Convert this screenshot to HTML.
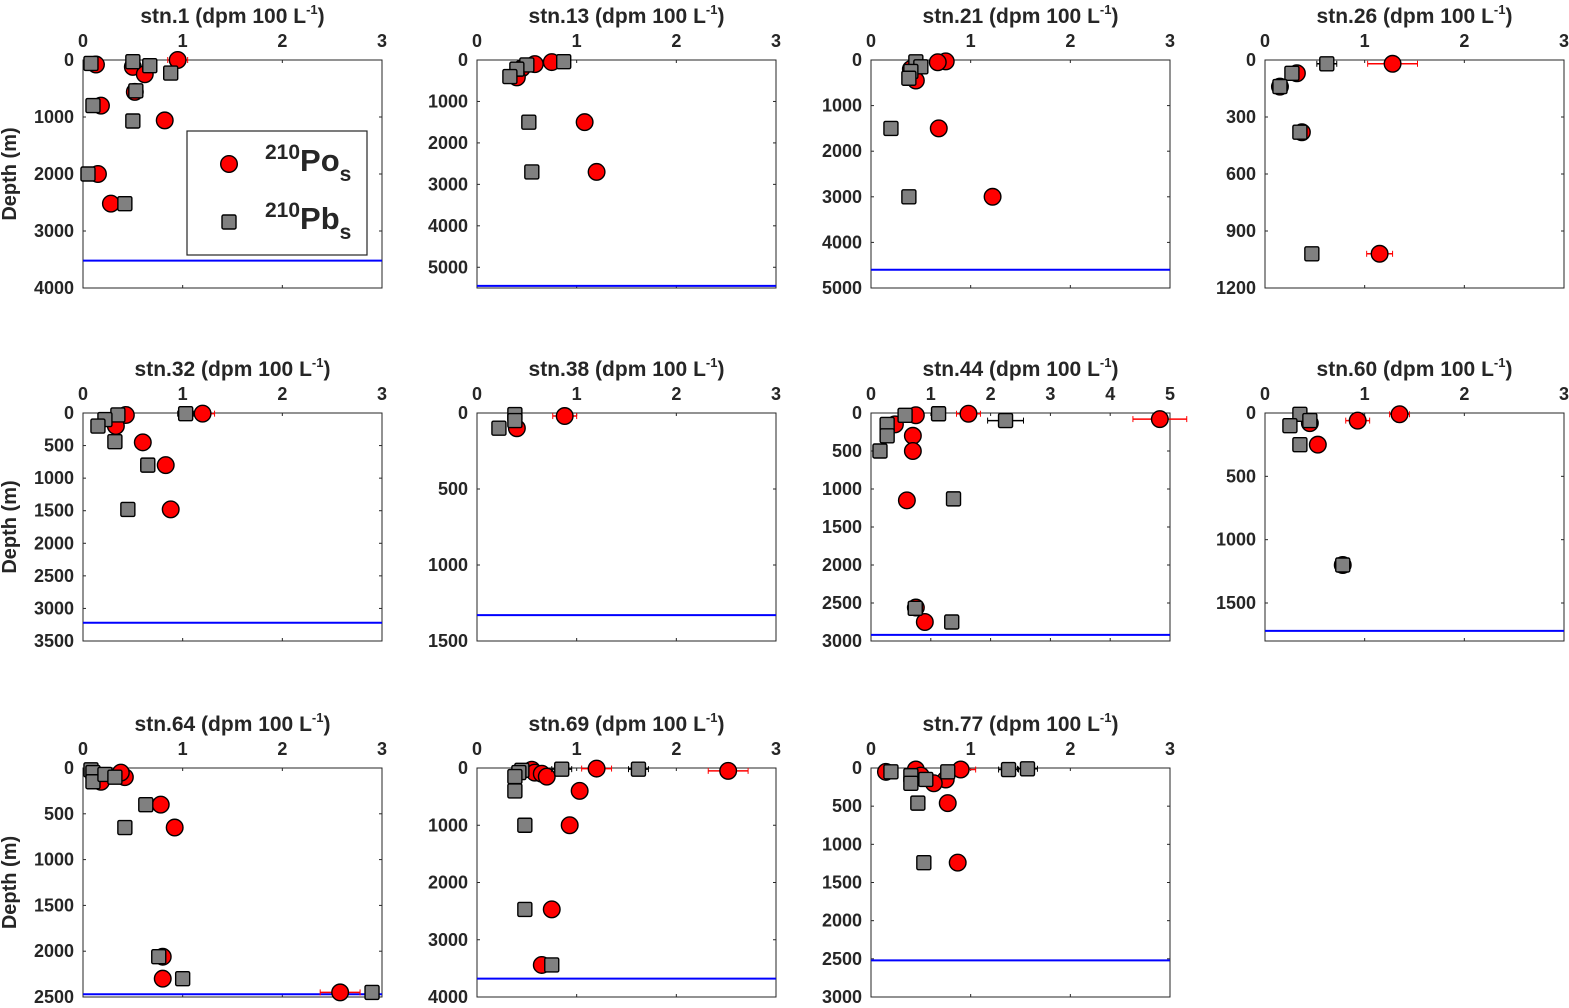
<!DOCTYPE html>
<html><head><meta charset="utf-8"><style>
html,body{margin:0;padding:0;background:#fff;}
svg text{font-family:"Liberation Sans",Arial,sans-serif;font-weight:bold;fill:#262626;}
</style></head><body>
<svg id="fig" xmlns="http://www.w3.org/2000/svg" width="1569" height="1003" viewBox="0 0 1569 1003"></svg>
<script>
// ---- data ----
const stations = ["1","13","21","26","32","38","44","60","64","69","77"];
const xMaxes = [3,3,3,3,3,3,5,3,3,3,3];
const yMaxes = [4000,5500,5000,1200,3500,1500,3000,1800,2500,4000,3000];
const yTickSteps = [1000,1000,1000,300,500,500,500,500,500,1000,500];
const bottomDepths = [3520,5450,4600,null,3220,1330,2920,1720,2470,3680,2520];
const poX = [
 [0.13,0.5,0.62,0.52,0.18,0.82,0.15,0.28,0.95],
 [0.75,0.58,0.45,0.4,1.08,1.2],
 [0.75,0.67,0.45,0.45,0.68,1.22,0.4],
 [1.28,0.32,0.15,0.37,1.15],
 [1.2,0.43,0.33,0.6,0.83,0.88],
 [0.88,0.4],
 [0.75,1.63,4.83,0.4,0.7,0.7,0.6,0.75,0.9],
 [1.35,0.93,0.45,0.53,0.78],
 [0.42,0.18,0.38,0.78,0.92,0.8,0.8,2.58],
 [1.2,0.55,0.58,0.65,0.7,1.03,0.93,0.75,0.65,2.52],
 [0.15,0.45,0.5,0.9,0.75,0.63,0.77,0.87]
];
const poD = [
 [80,120,250,560,800,1060,2000,2520,0],
 [50,100,200,420,1500,2700],
 [30,50,100,450,1500,3000,200],
 [20,70,140,380,1020],
 [10,30,200,450,800,1480],
 [20,100],
 [30,10,80,150,300,500,1150,2560,2750],
 [10,60,80,250,1200],
 [100,150,50,400,650,2060,2300,2450],
 [10,30,80,100,150,400,1000,2470,3440,50],
 [50,20,100,20,150,200,460,1240]
];
const poErr = [
 [0,0,0,0,0,0,0,0,0.1],
 [0,0,0,0,0,0],
 [0,0,0,0,0,0,0],
 [0.25,0,0,0,0.13],
 [0.12,0,0,0,0.07,0.08],
 [0.12,0],
 [0,0.2,0.45,0,0,0,0,0,0],
 [0.1,0.12,0,0,0],
 [0,0,0,0,0,0,0,0.2],
 [0.15,0,0,0,0,0.05,0.08,0.07,0,0.2],
 [0,0,0,0.15,0,0,0,0]
];
const pbX = [
 [0.08,0.5,0.67,0.88,0.53,0.1,0.5,0.05,0.42],
 [0.87,0.5,0.4,0.33,0.52,0.55],
 [0.45,0.5,0.4,0.38,0.2,0.38],
 [0.62,0.27,0.15,0.35,0.47],
 [1.03,0.35,0.22,0.15,0.32,0.65,0.45],
 [0.38,0.38,0.22],
 [0.57,1.13,2.25,0.27,0.27,0.15,1.38,0.74,1.35],
 [0.35,0.45,0.25,0.35,0.78],
 [0.08,0.1,0.1,0.22,0.32,0.63,0.42,0.76,1.0,2.9],
 [0.85,1.62,0.45,0.42,0.38,0.38,0.48,0.48,0.75],
 [0.2,0.4,0.4,0.55,0.77,1.38,1.57,0.47,0.53]
];
const pbD = [
 [60,30,100,230,540,800,1070,2000,2520],
 [40,120,220,400,1500,2700],
 [40,150,250,400,1500,3000],
 [20,70,140,380,1020],
 [10,30,100,200,440,800,1480],
 [10,50,100],
 [30,10,100,150,300,500,1130,2570,2750],
 [10,60,100,250,1200],
 [20,50,150,70,100,400,650,2060,2300,2450],
 [20,20,40,80,150,400,1000,2470,3440],
 [50,100,200,150,50,20,10,460,1240]
];
const pbErr = [
 [0,0,0,0,0,0,0,0,0],
 [0,0,0,0,0,0],
 [0,0,0,0,0,0],
 [0.1,0,0,0,0],
 [0.08,0,0,0,0,0.07,0],
 [0,0,0],
 [0,0.08,0.3,0,0,0,0,0,0],
 [0,0,0,0,0],
 [0,0,0,0,0,0,0,0,0.05,0],
 [0.1,0.1,0,0,0,0,0,0.03,0.05],
 [0,0,0,0,0,0.1,0.1,0,0]
];
// ---- layout ----
const colX = [83,477,871,1265];
const rowY = [60,413,768];
const PW = 299, PH = 228;
const NS = "http://www.w3.org/2000/svg";
const svg = document.getElementById('fig');
function mk(tag, attrs, parent){
  const e = document.createElementNS(NS, tag);
  for (const k in attrs) e.setAttribute(k, attrs[k]);
  (parent||svg).appendChild(e);
  return e;
}
stations.forEach((st, i) => {
  const x0 = colX[i % 4], y0 = rowY[Math.floor(i / 4)];
  const ph = (i === 8 || i === 9 || i === 10) ? 229 : PH;
  const xs = v => x0 + v / xMaxes[i] * PW;
  const ys = d => y0 + d / yMaxes[i] * ph;
  const g = mk('g', {});
  
  
  const fr = mk('rect', {x:x0, y:y0, width:PW, height:ph, fill:'#fff', stroke:'#262626', 'stroke-width':1}, g);
  
  
  const t = mk('text', {x:x0 + PW/2, y:y0 - 37, 'text-anchor':'middle', 'font-size':21}, g);
  
  
  t.innerHTML = 'stn.' + st + ' (dpm 100 L<tspan dy="-9" font-size="13">-1</tspan><tspan dy="9">)</tspan>';
  for (let v = 0; v <= xMaxes[i]; v++) {
    const tx = xs(v);
    mk('line', {x1:tx, y1:y0, x2:tx, y2:y0+3, stroke:'#262626'}, g);
    mk('line', {x1:tx, y1:y0+ph, x2:tx, y2:y0+ph-3, stroke:'#262626'}, g);
    const lt = mk('text', {x:tx, y:y0 - 13, 'text-anchor':'middle', 'font-size':18}, g);
    
    
    lt.textContent = v;
  }
  for (let d = 0; d <= yMaxes[i] + 1; d += yTickSteps[i]) {
    const ty = ys(d);
    mk('line', {x1:x0, y1:ty, x2:x0+3, y2:ty, stroke:'#262626'}, g);
    mk('line', {x1:x0+PW, y1:ty, x2:x0+PW-3, y2:ty, stroke:'#262626'}, g);
    const lt = mk('text', {x:x0 - 9, y:ty + 6, 'text-anchor':'end', 'font-size':18}, g);
    
    
    lt.textContent = d;
  }
  if (i % 4 === 0) {
    const yl = mk('text', {x:0, y:0, 'text-anchor':'middle', 'font-size':20, transform:'translate(16,' + (y0 + ph/2) + ') rotate(-90)'}, g);
    
    
    yl.textContent = 'Depth (m)';
  }
  if (bottomDepths[i] !== null) {
    const bl = mk('line', {x1:x0, x2:x0+PW, y1:ys(bottomDepths[i]), y2:ys(bottomDepths[i]), stroke:'#0000ff', 'stroke-width':2}, g);
    
    
  }
  poX[i].forEach((v, j) => {
    const cx = xs(v), cy = ys(poD[i][j]), e = poErr[i][j];
    if (e > 0) {
      mk('line', {x1:xs(v-e), x2:xs(v+e), y1:cy, y2:cy, stroke:'#ff0000', 'stroke-width':1.5}, g);
      mk('line', {x1:xs(v-e), x2:xs(v-e), y1:cy-3, y2:cy+3, stroke:'#ff0000'}, g);
      mk('line', {x1:xs(v+e), x2:xs(v+e), y1:cy-3, y2:cy+3, stroke:'#ff0000'}, g);
    }
    const c = mk('circle', {cx:cx, cy:cy, r:8.3, fill:'#ff0000', stroke:'#000', 'stroke-width':1.4}, g);
    
    
  });
  pbX[i].forEach((v, j) => {
    const cx = xs(v), cy = ys(pbD[i][j]), e = pbErr[i][j];
    if (e > 0) {
      mk('line', {x1:xs(v-e), x2:xs(v+e), y1:cy, y2:cy, stroke:'#000', 'stroke-width':1.5}, g);
      mk('line', {x1:xs(v-e), x2:xs(v-e), y1:cy-3, y2:cy+3, stroke:'#000'}, g);
      mk('line', {x1:xs(v+e), x2:xs(v+e), y1:cy-3, y2:cy+3, stroke:'#000'}, g);
    }
    const s = mk('rect', {x:cx-7, y:cy-7, width:14, height:14, rx:1.5, fill:'#808080', stroke:'#000', 'stroke-width':1.4}, g);
    
    
  });
});
const lg = mk('g', {});


mk('rect', {x:187, y:131, width:180, height:124, fill:'#fff', stroke:'#262626', 'stroke-width':1.2}, lg);
const lc = mk('circle', {cx:229, cy:164, r:8.3, fill:'#ff0000', stroke:'#000', 'stroke-width':1.4}, lg);


const lr = mk('rect', {x:222, y:215, width:14, height:14, rx:1.5, fill:'#808080', stroke:'#000', 'stroke-width':1.4}, lg);


const t1 = mk('text', {x:265, y:171, 'font-size':31, fill:'#000'}, lg);


t1.innerHTML = '<tspan dy="-12" font-size="21">210</tspan><tspan dy="12">Po</tspan><tspan dy="10" font-size="21">s</tspan>';
const t2 = mk('text', {x:265, y:229, 'font-size':31, fill:'#000'}, lg);


t2.innerHTML = '<tspan dy="-12" font-size="21">210</tspan><tspan dy="12">Pb</tspan><tspan dy="10" font-size="21">s</tspan>';
</script>
</body></html>
